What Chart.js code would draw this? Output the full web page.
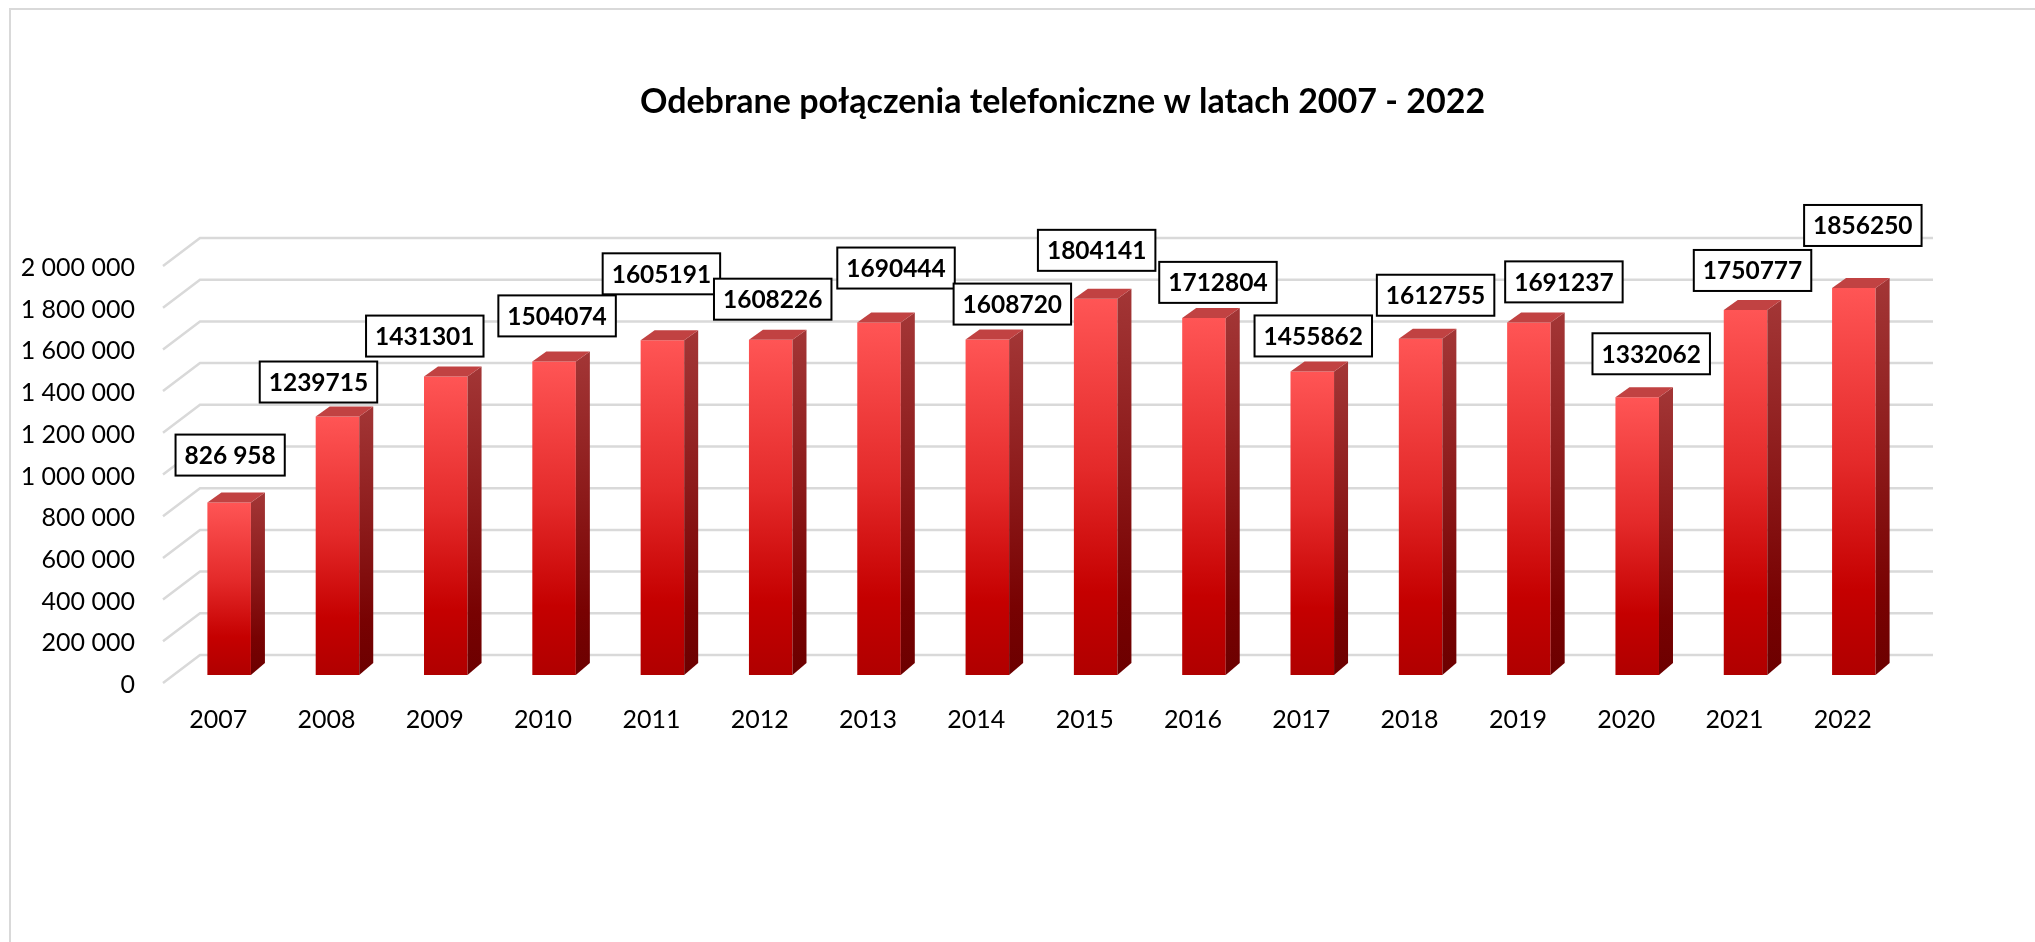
<!DOCTYPE html>
<html>
<head>
<meta charset="utf-8">
<script src="https://cdn.jsdelivr.net/npm/chart.js@4/dist/chart.umd.min.js"></script>
<style>
html,body{margin:0;padding:0;background:#fff;overflow:hidden;}
#wrap{position:relative;width:2035px;height:942px;overflow:hidden;}
#frame{position:absolute;left:9px;top:8px;right:-10px;bottom:-10px;border-top:2px solid #d9d9d9;border-left:2px solid #d9d9d9;pointer-events:none;}
canvas{position:absolute;left:0;top:0;}
</style>
</head>
<body>
<div id="wrap"><canvas id="c" width="2035" height="942"></canvas><div id="frame"></div></div>
<script>
// ---- data ----
const chartTitle = 'Odebrane połączenia telefoniczne w latach 2007 - 2022';
const years = ['2007','2008','2009','2010','2011','2012','2013','2014','2015','2016','2017','2018','2019','2020','2021','2022'];
const calls = [826958,1239715,1431301,1504074,1605191,1608226,1690444,1608720,1804141,1712804,1455862,1612755,1691237,1332062,1750777,1856250];
const valueLabels = ['826 958','1239715','1431301','1504074','1605191','1608226','1690444','1608720','1804141','1712804','1455862','1612755','1691237','1332062','1750777','1856250'];
const yTicks = [0,200000,400000,600000,800000,1000000,1200000,1400000,1600000,1800000,2000000];

// ---- label placement nudges (layout only, px) ----
const labelShiftX = [-6,-26,-28,-4,-8,-5,10,18,-6,7,-6,8,28,7,0,2];
const labelGap    = [17,4,10,15,36,10,24,5,18,5,5,13,10,13,9,32];

const FONT = 'Lato';
const DX = 14, DY = 10;

function fmt(v){ return String(v).replace(/\B(?=(\d{3})+(?!\d))/g,' '); }

const threeD = {
  id:'threeD',
  beforeDatasetsDraw(chart){
    const {ctx, chartArea:a, scales:{y}} = chart;
    ctx.save();
    ctx.strokeStyle = '#d9d9d9';
    ctx.lineWidth = 2.5;
    yTicks.forEach(v=>{
      const yb = y.getPixelForValue(v) - 20;
      ctx.beginPath();
      ctx.moveTo(a.left-12, yb+28);
      ctx.lineTo(a.left+25, yb);
      ctx.lineTo(a.right+25, yb);
      ctx.stroke();
    });
    ctx.restore();
  },
  afterDatasetsDraw(chart){
    const {ctx} = chart;
    const meta = chart.getDatasetMeta(0);
    ctx.save();
    meta.data.forEach((bar,i)=>{
      const {x,y,base,width} = bar.getProps(['x','y','base','width'], true);
      const l = x - width/2, r = x + width/2;
      // side face
      const gs = ctx.createLinearGradient(0, y-DY, 0, base);
      gs.addColorStop(0,'#a33636');
      gs.addColorStop(0.45,'#8c1a1a');
      gs.addColorStop(0.8,'#780202');
      gs.addColorStop(1,'#6c0000');
      ctx.fillStyle = gs;
      ctx.beginPath();
      ctx.moveTo(r, y);
      ctx.lineTo(r+DX, y-DY);
      ctx.lineTo(r+DX, base-DY-2);
      ctx.lineTo(r, base);
      ctx.closePath();
      ctx.fill();
      // top face
      ctx.fillStyle = '#c14242';
      ctx.beginPath();
      ctx.moveTo(l, y);
      ctx.lineTo(l+DX, y-DY);
      ctx.lineTo(r+DX, y-DY);
      ctx.lineTo(r, y);
      ctx.closePath();
      ctx.fill();
      // data label
      ctx.font = 'bold 24.5px ' + FONT;
      const txt = valueLabels[i];
      const tw = ctx.measureText(txt).width;
      const bw = tw + 18, bh = 41;
      const cx = x + DX/2 + labelShiftX[i];
      const bb = y - DY - labelGap[i];
      ctx.fillStyle = '#fff';
      ctx.fillRect(cx - bw/2, bb - bh, bw, bh);
      ctx.strokeStyle = '#000';
      ctx.lineWidth = 2;
      ctx.strokeRect(cx - bw/2, bb - bh, bw, bh);
      ctx.fillStyle = '#000';
      ctx.textAlign = 'center';
      ctx.textBaseline = 'middle';
      ctx.fillText(txt, cx, bb - bh/2 + 1);
    });
    ctx.restore();
  },
  afterDraw(chart){
    const {ctx, chartArea:a} = chart;
    ctx.save();
    ctx.font = 'bold 34px ' + FONT;
    ctx.fillStyle = '#000';
    ctx.textAlign = 'center';
    ctx.textBaseline = 'alphabetic';
    ctx.fillText(chartTitle, (a.left + a.right)/2 + 21, 113);
    ctx.restore();
  }
};

function frontGradient(context){
  const chart = context.chart;
  if (!chart.chartArea || !chart.scales.y) return '#d01010';
  const ys = chart.scales.y;
  const top = ys.getPixelForValue(calls[context.dataIndex]);
  const bot = ys.getPixelForValue(0);
  const g = chart.ctx.createLinearGradient(0, top, 0, bot);
  g.addColorStop(0,'#ff5555');
  g.addColorStop(0.45,'#e42a2a');
  g.addColorStop(0.78,'#c50000');
  g.addColorStop(1,'#b00000');
  return g;
}

new Chart(document.getElementById('c'), {
  type:'bar',
  data:{
    labels: years,
    datasets:[{
      data: calls,
      backgroundColor: frontGradient,
      borderWidth: 0,
      barPercentage: 1,
      categoryPercentage: 0.402
    }]
  },
  options:{
    responsive:false,
    devicePixelRatio:1,
    animation:false,
    layout:{padding:{top:258,right:127,left:0,bottom:0}},
    plugins:{legend:{display:false}, title:{display:false}, tooltip:{enabled:false}},
    scales:{
      x:{
        grid:{display:false, drawTicks:false},
        border:{display:false},
        ticks:{font:{family:FONT,size:25}, color:'#000', labelOffset:-11, padding:30, maxRotation:0},
        afterFit(ax){ ax.height = 267; }
      },
      y:{
        min:0, max:2000000,
        grid:{display:false, drawTicks:false},
        border:{display:false},
        afterBuildTicks(ax){ ax.ticks = yTicks.map(v=>({value:v})); },
        ticks:{font:{family:FONT,size:25}, color:'#000', padding:40, labelOffset:10, callback:v=>fmt(v)},
        afterFit(ax){ ax.width = 175; }
      }
    }
  },
  plugins:[threeD]
});
</script>
</body>
</html>
